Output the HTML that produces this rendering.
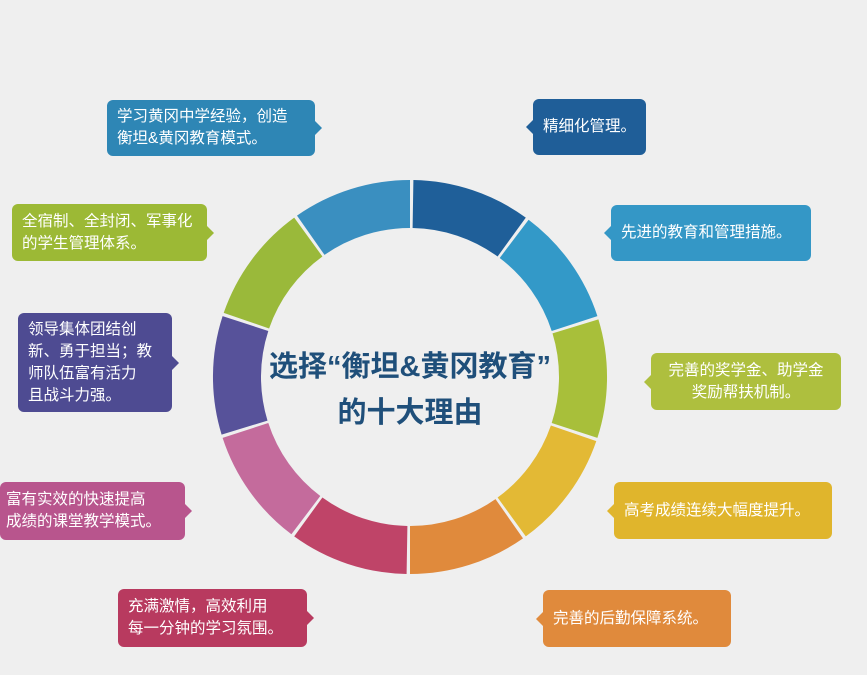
<!DOCTYPE html>
<html><head><meta charset="utf-8"><style>
body{margin:0;width:867px;height:675px;background:#efefef;position:relative;overflow:hidden;font-family:"Liberation Sans","Noto Sans CJK SC",sans-serif}
.b{position:absolute;color:#fff;border-radius:6px;font-size:15.5px;line-height:22px;display:flex;align-items:center;box-sizing:border-box;padding:0 10px}
.b:after{content:"";position:absolute;top:50%;margin-top:-9px;border:9px solid transparent}
.r:after{right:-16px;border-left-color:var(--c)}
.l:after{left:-16px;border-right-color:var(--c)}
.t{position:absolute;left:200px;width:420px;text-align:center;color:#1f4f7a;font-weight:bold;font-size:29px}
</style></head><body>
<svg width="867" height="675" style="position:absolute;left:0;top:0">
<g id="ring"></g>
</svg>
<script>
var cx=410,cy=377,R=197,r=149,cols=["#1f5f99","#3399c8","#a8bf3a","#e3b935","#e08a3c","#bf4468","#c46b9c","#57529a","#9ab93a","#3a8fc0"];
var s="";
function p(a,rad){a=(a-90)*Math.PI/180;return (cx+rad*Math.cos(a)).toFixed(1)+","+(cy+rad*Math.sin(a)).toFixed(1)}
for(var i=0;i<10;i++){var a0=i*36+1,a1=i*36+36;
s+='<path d="M'+p(a0,R)+' A'+R+','+R+' 0 0 1 '+p(a1,R)+' L'+p(a1,r)+' A'+r+','+r+' 0 0 0 '+p(a0,r)+' Z" fill="'+cols[i]+'"/>';}
document.getElementById("ring").innerHTML=s;
</script>
<div class="t" style="top:343px">选择“衡坦&amp;黄冈教育”</div>
<div class="t" style="top:389px">的十大理由</div>

<div class="b r" style="--c:#2e86b5;background:#2e86b5;left:107px;top:100px;width:208px;height:56px">学习黄冈中学经验，创造<br>衡坦&amp;黄冈教育模式。</div>
<div class="b r" style="--c:#9cb935;background:#9cb935;left:12px;top:204px;width:195px;height:57px">全宿制、全封闭、军事化<br>的学生管理体系。</div>
<div class="b r" style="--c:#4e4b92;background:#4e4b92;left:18px;top:313px;width:154px;height:99px">领导集体团结创<br>新、勇于担当；教<br>师队伍富有活力<br>且战斗力强。</div>
<div class="b r" style="--c:#b8558d;background:#b8558d;left:0px;top:482px;width:185px;height:58px;padding-left:6px">富有实效的快速提高<br>成绩的课堂教学模式。</div>
<div class="b r" style="--c:#b83a5f;background:#b83a5f;left:118px;top:589px;width:189px;height:58px">充满激情，高效利用<br>每一分钟的学习氛围。</div>
<div class="b l" style="--c:#1f5e98;background:#1f5e98;left:533px;top:99px;width:113px;height:56px">精细化管理。</div>
<div class="b l" style="--c:#3497c6;background:#3497c6;left:611px;top:205px;width:200px;height:56px">先进的教育和管理措施。</div>
<div class="b l" style="--c:#aebf3e;background:#aebf3e;left:651px;top:353px;width:190px;height:57px;justify-content:center;text-align:center">完善的奖学金、助学金<br>奖励帮扶机制。</div>
<div class="b l" style="--c:#e0b52c;background:#e0b52c;left:614px;top:482px;width:218px;height:57px">高考成绩连续大幅度提升。</div>
<div class="b l" style="--c:#e08a3c;background:#e08a3c;left:543px;top:590px;width:188px;height:57px">完善的后勤保障系统。</div>
</body></html>
